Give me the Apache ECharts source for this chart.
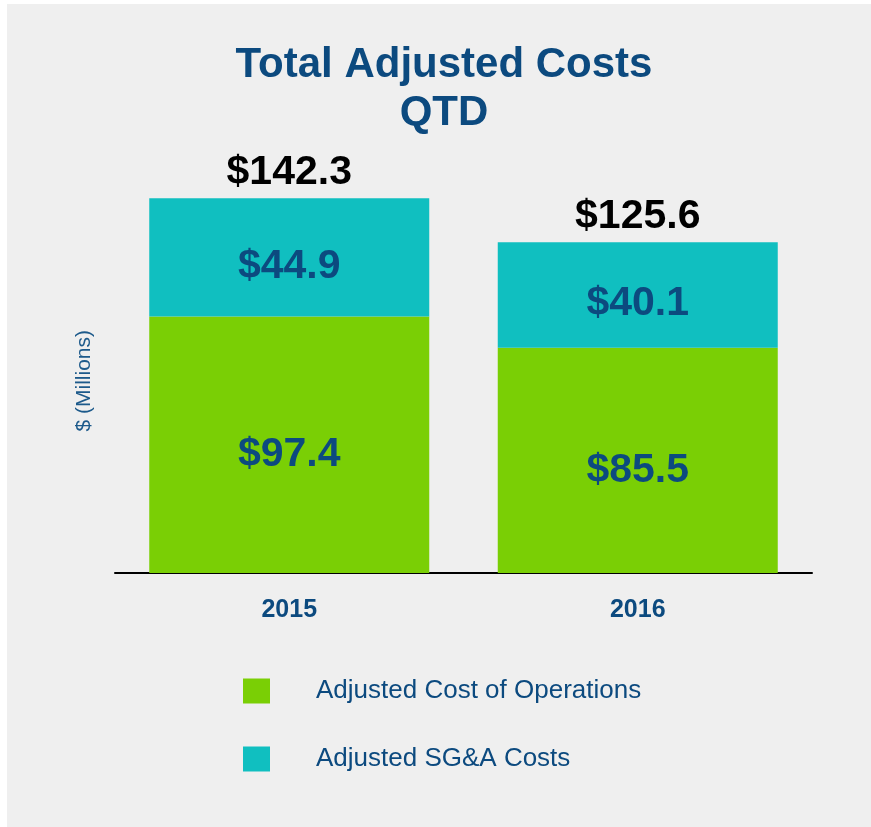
<!DOCTYPE html>
<html>
<head>
<meta charset="utf-8">
<script src="https://cdn.jsdelivr.net/npm/echarts@6/dist/echarts.min.js"></script>
<style>
  html, body { margin: 0; padding: 0; background: #ffffff; }
  #main {
    position: absolute;
    left: 7px;
    top: 4px;
    width: 864px;
    height: 823px;
    background: #efefef;
  }
</style>
</head>
<body>
<div id="main"></div>
<script>
  // values in $ millions
  var years = ['2015', '2016']
  var costOfOps = [97.4, 85.5]
  var sgaCosts = [44.9, 40.1]
  var totals = costOfOps.map(function (v, i) { return +(v + sgaCosts[i]).toFixed(1) })

  var font = '"Liberation Sans", Arial, Helvetica, sans-serif'
  var navy = '#0c4a7f'
  var green = '#7acf05'
  var teal = '#10bfc0'

  var chart = echarts.init(document.getElementById('main'), null, { renderer: 'canvas' })

  var option = {
    backgroundColor: '#efefef',
    animation: false,
    title: {
      text: 'Total Adjusted Costs\nQTD',
      left: 432,
      top: 32,
      textAlign: 'center',
      textStyle: {
        fontFamily: font,
        fontSize: 42,
        fontWeight: 'bold',
        color: navy,
        lineHeight: 48
      }
    },
    graphic: [{
      type: 'text',
      left: 67,
      top: 326,
      rotation: Math.PI / 2,
      style: {
        text: '$ (Millions)',
        font: '21px ' + font,
        fill: '#1d5a8b'
      }
    }],
    legend: {
      orient: 'vertical',
      left: 231,
      top: 669,
      itemWidth: 27,
      itemHeight: 25,
      itemGap: 42,
      icon: 'rect',
      data: ['Adjusted Cost of Operations', 'Adjusted SG&A Costs'],
      textStyle: {
        fontFamily: font,
        fontSize: 26,
        color: navy,
        padding: [0, 0, 0, 41]
      }
    },
    grid: {
      left: 108,
      right: 59,
      top: 174,
      bottom: 254
    },
    xAxis: {
      type: 'category',
      data: years,
      axisLine: { lineStyle: { color: '#000000', width: 2 } },
      axisTick: { show: false },
      axisLabel: {
        margin: 25,
        fontFamily: font,
        fontSize: 25,
        fontWeight: 'bold',
        color: navy
      }
    },
    yAxis: {
      type: 'value',
      min: 0,
      max: 150,
      show: false,
      splitLine: { show: false }
    },
    series: [
      {
        name: 'Adjusted Cost of Operations',
        type: 'bar',
        stack: 'cost',
        barWidth: 280,
        data: costOfOps,
        itemStyle: { color: green },
        label: {
          show: true,
          position: 'inside',
          offset: [0, 10],
          formatter: function (p) { return '$' + p.value.toFixed(1) },
          fontFamily: font,
          fontSize: 41,
          fontWeight: 'bold',
          color: navy
        }
      },
      {
        name: 'Adjusted SG&A Costs',
        type: 'bar',
        stack: 'cost',
        barWidth: 280,
        data: sgaCosts,
        itemStyle: { color: teal },
        label: {
          show: true,
          position: 'inside',
          offset: [0, 9],
          formatter: function (p) { return '$' + p.value.toFixed(1) },
          fontFamily: font,
          fontSize: 41,
          fontWeight: 'bold',
          color: navy
        }
      },
      {
        // transparent overlay, only carries the total label
        name: 'Total',
        type: 'bar',
        barWidth: 280,
        barGap: '-100%',
        data: totals,
        itemStyle: { color: 'rgba(0,0,0,0)' },
        silent: true,
        label: {
          show: true,
          position: 'top',
          distance: 5,
          formatter: function (p) { return '$' + p.value.toFixed(1) },
          fontFamily: font,
          fontSize: 41,
          fontWeight: 'bold',
          color: '#000000'
        }
      }
    ]
  }

  chart.setOption(option)
</script>
</body>
</html>
